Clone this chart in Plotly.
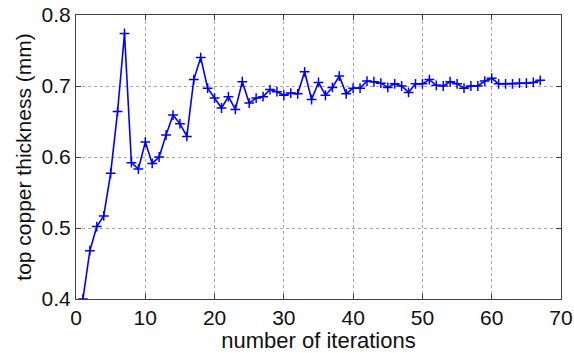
import plotly.graph_objects as go

iterations = list(range(1, 68))
thickness = [
    0.400, 0.468, 0.502, 0.517, 0.577, 0.664, 0.774, 0.592, 0.583, 0.621,
    0.591, 0.600, 0.631, 0.659, 0.647, 0.629, 0.709, 0.740, 0.697, 0.683,
    0.669, 0.685, 0.667, 0.706, 0.676, 0.683, 0.685, 0.695, 0.692, 0.687,
    0.690, 0.689, 0.720, 0.681, 0.705, 0.687, 0.698, 0.714, 0.689, 0.697,
    0.697, 0.707, 0.706, 0.704, 0.698, 0.703, 0.700, 0.691, 0.703, 0.703,
    0.709, 0.701, 0.700, 0.706, 0.703, 0.697, 0.700, 0.700, 0.707, 0.711,
    0.703, 0.703, 0.703, 0.704, 0.704, 0.705, 0.708,
]
x_ticks = [0, 10, 20, 30, 40, 50, 60, 70]
y_ticks = [0.4, 0.5, 0.6, 0.7, 0.8]

FONT = "Liberation Sans, Arial"
fig = go.Figure()
fig.add_trace(go.Scatter(
    x=iterations, y=thickness, mode="lines+markers",
    line=dict(color="#0000ff", width=1.6),
    marker=dict(symbol="cross-thin", size=7, line=dict(color="#0000ff", width=1.5)),
    showlegend=False,
))

axis_common = dict(
    showline=True, linecolor="#404040", linewidth=1, mirror="ticks",
    ticks="inside", ticklen=5, tickcolor="#404040",
    showgrid=True, gridcolor="#a8a8a8", griddash="dot", gridwidth=1,
    zeroline=False, automargin=False,
    tickfont=dict(family=FONT, size=21, color="#111"),
)

fig.update_xaxes(range=[0, 70], tickvals=x_ticks, ticktext=[str(v) for v in x_ticks],
                 title=dict(text="number of iterations", standoff=0,
                            font=dict(family=FONT, size=22, color="#111")),
                 **axis_common)
fig.update_yaxes(range=[0.4, 0.8], tickvals=y_ticks, ticktext=[f"{v:.1f}" for v in y_ticks],
                 title=dict(text="top copper thickness (mm)", standoff=4,
                            font=dict(family=FONT, size=21, color="#111")),
                 **axis_common)

fig.update_layout(
    width=574, height=353,
    margin=dict(l=76, r=13, t=15, b=54),
    paper_bgcolor="white", plot_bgcolor="white",
)

# remove the default 8px page margin so the figure fills the window exactly
fig.write_html("out.html",
               config={"displayModeBar": False},
               post_script="document.body.style.margin='0';document.body.style.overflow='hidden';")
